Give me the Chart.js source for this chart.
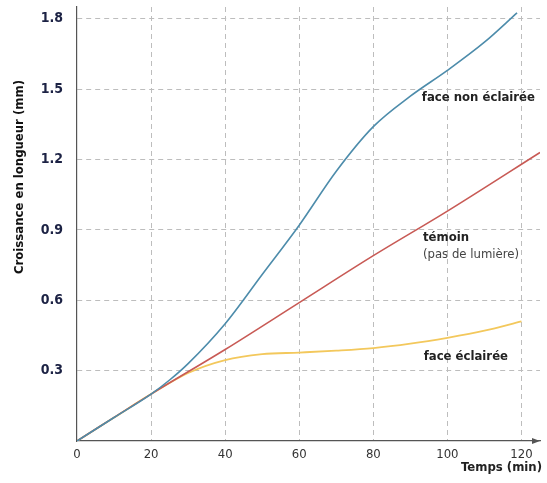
<!DOCTYPE html>
<html><head><meta charset="utf-8">
<script src="https://cdn.jsdelivr.net/npm/chart.js@4.4.1/dist/chart.umd.min.js"></script>
<style>html,body{margin:0;padding:0;background:#fff}#wrap{width:547px;height:483px}</style>
</head><body><div id="wrap"><canvas id="c" width="547" height="483"></canvas></div>
<script>
const timeBlue = [0, 10, 20, 25, 30, 40, 50, 60, 70, 80, 90, 100, 110, 118.8];
const valBlue  = [0, 0.10, 0.20, 0.26, 0.33, 0.50, 0.71, 0.92, 1.15, 1.34, 1.47, 1.58, 1.70, 1.825];
const timeRed = [0, 20, 40, 60, 80, 100, 125];
const valRed  = [0, 0.20, 0.39, 0.59, 0.79, 0.98, 1.23];
const timeYellow = [0, 10, 20, 30, 40, 50, 60, 70, 80, 90, 100, 110, 120];
const valYellow  = [0, 0.10, 0.20, 0.29, 0.345, 0.37, 0.377, 0.385, 0.396, 0.415, 0.44, 0.47, 0.51];
const xTicks = [0, 20, 40, 60, 80, 100, 120];
const yTicks = [0, 0.3, 0.6, 0.9, 1.2, 1.5, 1.8];
const seriesLabels = [
  {lines: [{t: 'face non éclairée', bold: true}], x: 93.1, y: 1.465},
  {lines: [{t: 'témoin', bold: true}, {t: '(pas de lumière)', bold: false}], x: 93.4, y: 0.866},
  {lines: [{t: 'face éclairée', bold: true}], x: 93.6, y: 0.358}
];
const FONT = "'Liberation Sans Narrow', 'DejaVu Sans Condensed', 'Arial Narrow', sans-serif";
const pts = (xs, ys) => xs.map((x, i) => ({x, y: ys[i]}));

const decor = {
  id: 'decor',
  afterDraw(chart) {
    const {ctx, scales: {x, y}, chartArea: a} = chart;
    ctx.save();
    ctx.fillStyle = '#555';
    ctx.beginPath(); ctx.moveTo(a.right - 8, a.bottom - 3); ctx.lineTo(a.right, a.bottom); ctx.lineTo(a.right - 8, a.bottom + 3); ctx.closePath(); ctx.fill();
    ctx.textBaseline = 'middle'; ctx.textAlign = 'left';
    seriesLabels.forEach(l => {
      const px = x.getPixelForValue(l.x), py = y.getPixelForValue(l.y);
      l.lines.forEach((ln, i) => {
        ctx.font = (ln.bold ? 'bold ' : '') + '13px ' + FONT;
        ctx.fillStyle = ln.bold ? '#222' : '#444';
        ctx.fillText(ln.t, px, py + i * 17);
      });
    });
    ctx.save();
    ctx.translate(20, 177); ctx.rotate(-Math.PI / 2);
    ctx.font = 'bold 13px ' + FONT; ctx.fillStyle = '#111'; ctx.textAlign = 'center';
    ctx.fillText('Croissance en longueur (mm)', 0, 0);
    ctx.restore();
    ctx.font = 'bold 13px ' + FONT; ctx.fillStyle = '#222'; ctx.textAlign = 'right';
    ctx.fillText('Temps (min)', 542, 468);
    ctx.restore();
  }
};

const gridColor = c => c.tick && c.tick.value === 0 ? 'rgba(0,0,0,0)' : '#bdbdbd';

new Chart(document.getElementById('c'), {
  type: 'line',
  data: {
    datasets: [
      {data: pts(timeBlue, valBlue), borderColor: '#4d8cab', borderWidth: 1.6},
      {data: pts(timeRed, valRed), borderColor: '#c85a55', borderWidth: 1.6, tension: 0},
      {data: pts(timeYellow, valYellow), borderColor: '#f3c85c', borderWidth: 1.8}
    ]
  },
  options: {
    responsive: false, animation: false,
    layout: {padding: {top: 7, right: 7, left: 0, bottom: 0}},
    elements: {point: {radius: 0}, line: {tension: 0.4, cubicInterpolationMode: 'monotone'}},
    plugins: {legend: {display: false}, tooltip: {enabled: false}},
    scales: {
      x: {
        type: 'linear', min: 0, max: 125,
        afterBuildTicks: s => { s.ticks = xTicks.map(v => ({value: v})); },
        afterFit: s => { s.height = 42; s.paddingRight = 0; },
        ticks: {font: {family: FONT, size: 13}, color: '#333', padding: 6, maxRotation: 0},
        grid: {color: gridColor, drawTicks: false},
        border: {display: true, color: '#555', width: 1.2, dash: [5, 4]}
      },
      y: {
        type: 'linear', min: 0, max: 1.85,
        afterBuildTicks: s => { s.ticks = yTicks.map(v => ({value: v})); },
        afterFit: s => { s.width = 77; s.paddingTop = 0; s.paddingBottom = 0; },
        ticks: {font: {family: FONT, size: 14, weight: 'bold'}, color: '#1c2244', padding: 14,
          callback: v => v === 0 ? '' : v.toFixed(1)},
        grid: {color: gridColor, drawTicks: false},
        border: {display: true, color: '#555', width: 1.2, dash: [5, 4]}
      }
    }
  },
  plugins: [decor]
});
</script></body></html>
